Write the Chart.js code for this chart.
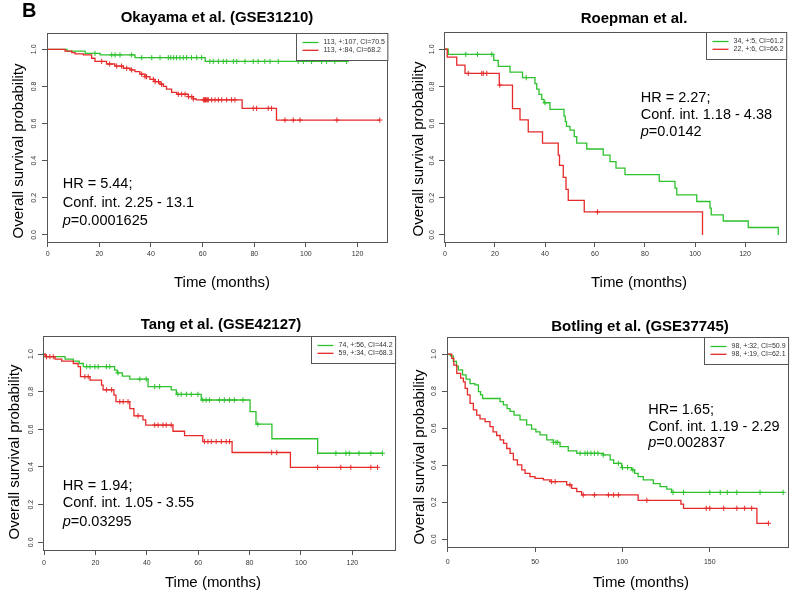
<!DOCTYPE html>
<html>
<head>
<meta charset="utf-8">
<script src="https://cdn.jsdelivr.net/npm/chart.js@4.4.1/dist/chart.umd.min.js"></script>
<style>
body { margin: 0; background: #fff; width: 800px; height: 598px; position: relative; overflow: hidden; }
canvas { position: absolute; }
</style>
</head>
<body>
<canvas id="c1" width="400" height="299" style="left:0;top:0"></canvas>
<canvas id="c2" width="400" height="299" style="left:400px;top:0"></canvas>
<canvas id="c3" width="400" height="299" style="left:0;top:299px"></canvas>
<canvas id="c4" width="400" height="299" style="left:400px;top:299px"></canvas>
<script>
// ---- tick labels ----
const yTicks = [0, 0.2, 0.4, 0.6, 0.8, 1.0];
const xTicksMonths = [0, 20, 40, 60, 80, 100, 120];
const xTicksBotling = [0, 50, 100, 150];

// ---- Okayama et al. (GSE31210) ----
const okaGreenT = [0, 7.5, 14.5, 20.3, 33.8, 61, 115.7];
const okaGreenS = [1, 0.99, 0.978, 0.97, 0.955, 0.935, 0.935];
const okaGreenCens = [18.3, 24.8, 26.1, 28, 32.5, 36.4, 40.3, 43.5, 46.7, 47.7, 48.8, 49.9, 51.2, 52.5, 53.8, 55.7,
    57.7, 59.6, 62.8, 64.1, 66.1, 68, 69.3, 71.9, 73.2, 76.4, 79.6, 81.5, 84.1, 86.1, 89.3, 97, 99, 102.2, 106.1,
    108, 111.2, 115.7];
const okaRedT = [0, 6.7, 9.3, 10.6, 13.8, 17, 18.3, 22.8, 26, 29.3, 31.9, 33.8, 35.7, 37.7, 39.6, 41.5, 43.5, 44.8,
    46, 48, 50, 54.5, 56.4, 57.5, 75.3, 88.6, 128.6];
const okaRedS = [1, 0.99, 0.982, 0.975, 0.97, 0.952, 0.935, 0.921, 0.91, 0.898, 0.889, 0.88, 0.866, 0.853, 0.838,
    0.826, 0.812, 0.8, 0.786, 0.768, 0.758, 0.745, 0.733, 0.728, 0.682, 0.619, 0.619];
const okaRedCens = [20.9, 24, 26.7, 28.6, 30.6, 32.5, 36.4, 37.7, 38.3, 40.9, 41.6, 42.9, 44.1, 50.6, 51.9, 53.2,
    54.5, 55.8, 56.4, 60.3, 60.7, 61.1, 61.4, 61.8, 62.2, 63.5, 64.8, 66.1, 67.4, 69.3, 71.2, 72.5, 79.6, 80.9, 85.4,
    86.7, 91.9, 95.1, 97.7, 112, 128.6];

// ---- Roepman et al. ----
const roeGreenT = [0, 1.3, 19.5, 21.3, 26, 31, 36, 36.7, 37.6, 38.7, 39.6, 42, 47.6, 48.1, 48.6, 50, 51.7, 52.7,
    56.7, 63.3, 66, 68.4, 72, 85.7, 92, 92.7, 100.7, 106, 106.5, 111.3, 121.3, 133.3];
const roeGreenS = [1, 0.973, 0.94, 0.908, 0.877, 0.847, 0.815, 0.785, 0.757, 0.73, 0.712, 0.676, 0.64, 0.61, 0.585,
    0.565, 0.53, 0.495, 0.463, 0.43, 0.395, 0.36, 0.325, 0.288, 0.252, 0.216, 0.18, 0.144, 0.108, 0.075, 0.04, 0];
const roeGreenCens = [8.3, 13, 18.7, 32.5, 40];
const roeRedT = [0, 0.9, 4.7, 8, 21.7, 27, 30, 33.3, 39, 45.3, 45.8, 47.3, 48.4, 49.3, 55.7, 103];
const roeRedS = [1, 0.958, 0.915, 0.87, 0.807, 0.68, 0.62, 0.555, 0.495, 0.43, 0.375, 0.31, 0.245, 0.186, 0.124, 0];
const roeRedCens = [9.3, 14.7, 15.3, 16.7, 21.9, 61];

// ---- Tang et al. (GSE42127) ----
const tanGreenT = [0, 0.5, 8.2, 11.4, 13.7, 15.3, 27.5, 28.5, 30.5, 33.4, 40.5, 49.5, 51.5, 61.2, 80.2, 82.5, 88.7,
    106.5, 131.7];
const tanGreenS = [1, 0.986, 0.973, 0.962, 0.95, 0.933, 0.915, 0.9, 0.883, 0.867, 0.827, 0.81, 0.786, 0.756, 0.694,
    0.628, 0.55, 0.473, 0.473];
const tanGreenCens = [16.6, 17.9, 19.8, 21.1, 24.3, 25.6, 28.8, 37.3, 39.8, 43.1, 45, 52.1, 53.4, 55.4, 57.3, 59.9,
    61.8, 63.1, 64.4, 68.3, 70.2, 72.2, 74.1, 77.4, 83.2, 113.6, 117.5, 118.8, 122.6, 127.2, 131.7];
const tanRedT = [0, 0.5, 4.3, 6.9, 11.4, 13.3, 14.2, 17.9, 22.4, 23, 27.2, 28, 33.4, 35, 38.5, 39.6, 50.2, 54.7,
    61.8, 73.2, 95.9, 129.8];
const tanRedS = [1, 0.986, 0.973, 0.963, 0.95, 0.933, 0.88, 0.862, 0.835, 0.81, 0.782, 0.747, 0.71, 0.672, 0.65,
    0.623, 0.59, 0.567, 0.535, 0.477, 0.398, 0.398];
const tanRedCens = [1, 2.3, 3.6, 15.9, 17.2, 24.3, 26.3, 29.5, 30.8, 32.7, 36.6, 43.1, 44.4, 46.3, 47.6, 49.5, 62.5,
    63.8, 65.1, 67, 69, 70.9, 72.2, 88.6, 90.6, 106.5, 115.5, 119.4, 127.2, 129.8];

// ---- Botling et al. (GSE37745) ----
const botGreenT = [0, 1.5, 3.2, 5, 6.1, 8.5, 10.5, 12.8, 15.6, 17.6, 18.8, 20, 30, 31.9, 34, 35.7, 38, 41.4, 45.2,
    48, 50.5, 52.9, 56.7, 60.5, 64.3, 69, 73.9, 89, 93, 95, 99.6, 105.3, 107, 109, 112, 117.7, 121.6, 125.4, 128.2,
    192];
const botGreenS = [1, 0.99, 0.96, 0.935, 0.914, 0.887, 0.865, 0.84, 0.833, 0.797, 0.78, 0.76, 0.743, 0.725, 0.705,
    0.69, 0.67, 0.644, 0.617, 0.595, 0.58, 0.563, 0.536, 0.523, 0.5, 0.477, 0.464, 0.455, 0.428, 0.41, 0.387, 0.374,
    0.356, 0.338, 0.32, 0.3, 0.284, 0.27, 0.253, 0.253];
const botGreenCens = [60.5, 62, 63, 75.8, 78.6, 80, 82, 84, 86, 89, 97.7, 100, 103, 106, 129, 135, 150, 156, 160,
    165.5, 178.8, 192];
const botRedT = [0, 2.3, 3.5, 5.2, 7.4, 9, 10, 11.3, 12.8, 14.7, 16.6, 18.5, 21.4, 24.2, 26, 28, 30, 32, 33.8, 35.7,
    37.6, 39.9, 42.4, 44.3, 47.1, 50, 54.8, 58.6, 68.1, 71, 73.9, 76.7, 109, 133.5, 135, 177, 183.6];
const botRedS = [1, 0.977, 0.94, 0.896, 0.87, 0.85, 0.815, 0.78, 0.734, 0.698, 0.67, 0.65, 0.635, 0.608, 0.58, 0.56,
    0.536, 0.518, 0.49, 0.464, 0.428, 0.401, 0.374, 0.356, 0.338, 0.329, 0.32, 0.311, 0.293, 0.275, 0.257, 0.239,
    0.21, 0.19, 0.167, 0.086, 0.086];
const botRedCens = [59.5, 61.5, 70, 77.6, 84, 92, 95, 97.7, 114, 148, 150, 158, 165.5, 170, 174, 183.6];

const GREEN = '#2ec12e';
const RED = '#e52a2a';
const FONT = '"Liberation Sans", Arial, Helvetica, sans-serif';
const YW = 24, XH = 24;

// value of a step curve at time t (for placing the censor marks)
function survAt(T, S, t) {
    let v = S[0];
    for (let i = 0; i < T.length; i++) {
        if (T[i] <= t) v = S[i];
    }
    return v;
}

function curve(T, S, color) {
    return {
        data: T.map((t, i) => ({ x: t, y: S[i] })),
        showLine: true,
        stepped: 'before',
        pointRadius: 0,
        borderColor: color,
        borderWidth: 1.3
    };
}

function marks(T, S, C, color) {
    return {
        data: C.map(t => ({ x: t, y: survAt(T, S, t) })),
        showLine: false,
        pointStyle: 'cross',
        pointRadius: 2.6,
        borderColor: color,
        borderWidth: 1
    };
}

const decor = {
    id: 'decor',
    afterDraw(chart, args, o) {
        const ctx = chart.ctx;
        const a = chart.chartArea;
        ctx.save();
        // plot box
        ctx.strokeStyle = '#555';
        ctx.lineWidth = 1;
        ctx.strokeRect(Math.round(a.left) + 0.5, Math.round(a.top) + 0.5,
            Math.round(a.right - a.left), Math.round(a.bottom - a.top));

        // legend (top right)
        ctx.font = '7px ' + FONT;
        const tw = Math.max(...o.legend.map(l => ctx.measureText(l.text).width));
        const bw = 6 + 16 + 5 + tw + 3, bh = 27;
        const bx = Math.round(a.right - bw) + 0.5, by = Math.round(a.top) + 0.5;
        ctx.fillStyle = '#fff';
        ctx.fillRect(bx, by, bw, bh);
        ctx.strokeStyle = '#555';
        ctx.strokeRect(bx, by, bw, bh);
        o.legend.forEach((l, i) => {
            const ly = by + 9 + i * 7.8;
            ctx.strokeStyle = l.color;
            ctx.lineWidth = 1.3;
            ctx.beginPath();
            ctx.moveTo(bx + 6, ly);
            ctx.lineTo(bx + 22, ly);
            ctx.stroke();
            ctx.fillStyle = '#333';
            ctx.textAlign = 'left';
            ctx.textBaseline = 'middle';
            ctx.fillText(l.text, bx + 27, ly);
        });

        // title
        ctx.fillStyle = '#000';
        ctx.font = 'bold 15px ' + FONT;
        ctx.textAlign = 'center';
        ctx.textBaseline = 'middle';
        ctx.fillText(o.title, o.titleX, o.titleY);
        if (o.tag) {
            ctx.font = 'bold 20px ' + FONT;
            ctx.textAlign = 'left';
            ctx.fillText(o.tag, 22, 11);
        }

        // axis titles
        ctx.font = '15px ' + FONT;
        ctx.textAlign = 'center';
        ctx.fillText('Time (months)', o.xlab[0], o.xlab[1]);
        ctx.save();
        ctx.translate(o.ylab[0], o.ylab[1]);
        ctx.rotate(-Math.PI / 2);
        ctx.fillText('Overall survival probability', 0, 0);
        ctx.restore();

        // HR annotation
        ctx.textAlign = 'left';
        ctx.font = '14.5px ' + FONT;
        ctx.fillText(o.notes[0], o.noteX, o.noteY[0]);
        ctx.fillText(o.notes[1], o.noteX, o.noteY[1]);
        ctx.font = 'italic 14.5px ' + FONT;
        ctx.fillText('p', o.noteX, o.noteY[2]);
        const pw = ctx.measureText('p').width;
        ctx.font = '14.5px ' + FONT;
        ctx.fillText(o.notes[2], o.noteX + pw, o.noteY[2]);
        ctx.restore();
    }
};

function makePanel(id, p) {
    const H = 299, W = 400;
    new Chart(document.getElementById(id), {
        type: 'scatter',
        data: {
            datasets: [
                curve(p.redT, p.redS, RED),
                marks(p.redT, p.redS, p.redC, RED),
                curve(p.greenT, p.greenS, GREEN),
                marks(p.greenT, p.greenS, p.greenC, GREEN)
            ]
        },
        options: {
            responsive: false,
            animation: false,
            devicePixelRatio: 1,
            layout: {
                padding: { left: p.box[0] - YW, top: p.box[1], right: W - p.box[2], bottom: H - p.box[3] - XH }
            },
            plugins: {
                legend: { display: false },
                tooltip: { enabled: false },
                decor: p.decor
            },
            scales: {
                x: {
                    type: 'linear',
                    min: p.xRange[0],
                    max: p.xRange[1],
                    afterFit: s => { s.height = XH; },
                    afterBuildTicks: s => { s.ticks = p.xTicks.map(v => ({ value: v })); },
                    border: { display: false },
                    grid: { drawOnChartArea: false, drawTicks: true, tickLength: 5, color: '#555' },
                    ticks: {
                        autoSkip: false, maxRotation: 0, padding: p.xPad,
                        color: '#333', font: { size: 7, family: FONT },
                        callback: v => String(v)
                    }
                },
                y: {
                    type: 'linear',
                    min: p.yRange[0],
                    max: p.yRange[1],
                    afterFit: s => { s.width = YW; },
                    afterBuildTicks: s => { s.ticks = yTicks.map(v => ({ value: v })); },
                    border: { display: false },
                    grid: { drawOnChartArea: false, drawTicks: true, tickLength: 5, color: '#555' },
                    ticks: {
                        autoSkip: false, minRotation: 90, maxRotation: 90, crossAlign: 'center', padding: p.yPad,
                        color: '#333', font: { size: 7, family: FONT },
                        callback: v => v.toFixed(1)
                    }
                }
            }
        },
        plugins: [decor]
    });
}

makePanel('c1', {
    box: [47, 33, 387, 242], xRange: [-0.27, 131.4], yRange: [-0.038, 1.088], xTicks: xTicksMonths, xPad: 3, yPad: 3.5,
    greenT: okaGreenT, greenS: okaGreenS, greenC: okaGreenCens,
    redT: okaRedT, redS: okaRedS, redC: okaRedCens,
    decor: {
        title: 'Okayama et al. (GSE31210)', titleX: 217, titleY: 18, tag: 'B',
        xlab: [222, 283], ylab: [19, 151],
        notes: ['HR = 5.44;', 'Conf. int. 2.25 - 13.1', '=0.0001625'], noteX: 62.7, noteY: [184, 202.5, 221],
        legend: [{ text: '113, +:107, CI=70.5', color: GREEN }, { text: '113, +:84, CI=68.2', color: RED }]
    }
});

makePanel('c2', {
    box: [44, 32, 386, 242], xRange: [-0.4, 136.4], yRange: [-0.038, 1.093], xTicks: xTicksMonths, xPad: 3, yPad: 2,
    greenT: roeGreenT, greenS: roeGreenS, greenC: roeGreenCens,
    redT: roeRedT, redS: roeRedS, redC: roeRedCens,
    decor: {
        title: 'Roepman et al.', titleX: 234, titleY: 19,
        xlab: [239, 283], ylab: [19, 149],
        notes: ['HR = 2.27;', 'Conf. int. 1.18 - 4.38', '=0.0142'], noteX: 240.7, noteY: [98.3, 115, 131.7],
        legend: [{ text: '34, +:5, CI=61.2', color: GREEN }, { text: '22, +:6, CI=66.2', color: RED }]
    }
});

makePanel('c3', {
    box: [43, 37, 396, 251], xRange: [-0.39, 136.6], yRange: [-0.041, 1.096], xTicks: xTicksMonths, xPad: 4, yPad: 1.7,
    greenT: tanGreenT, greenS: tanGreenS, greenC: tanGreenCens,
    redT: tanRedT, redS: tanRedS, redC: tanRedCens,
    decor: {
        title: 'Tang et al. (GSE42127)', titleX: 221, titleY: 26,
        xlab: [213, 284], ylab: [15, 153],
        notes: ['HR = 1.94;', 'Conf. int. 1.05 - 3.55', '=0.03295'], noteX: 62.7, noteY: [187, 204.3, 222.7],
        legend: [{ text: '74, +:56, CI=44.2', color: GREEN }, { text: '59, +:34, CI=68.3', color: RED }]
    }
});

makePanel('c4', {
    box: [47, 38, 388, 248], xRange: [-0.4, 194.8], yRange: [-0.042, 1.092], xTicks: xTicksBotling, xPad: 5.5, yPad: 3.5,
    greenT: botGreenT, greenS: botGreenS, greenC: botGreenCens,
    redT: botRedT, redS: botRedS, redC: botRedCens,
    decor: {
        title: 'Botling et al. (GSE37745)', titleX: 240, titleY: 28,
        xlab: [241, 284], ylab: [20, 158],
        notes: ['HR= 1.65;', 'Conf. int. 1.19 - 2.29', '=0.002837'], noteX: 248.3, noteY: [111, 127.7, 144.3],
        legend: [{ text: '98, +:32, CI=50.9', color: GREEN }, { text: '98, +:19, CI=62.1', color: RED }]
    }
});
</script>
</body>
</html>
